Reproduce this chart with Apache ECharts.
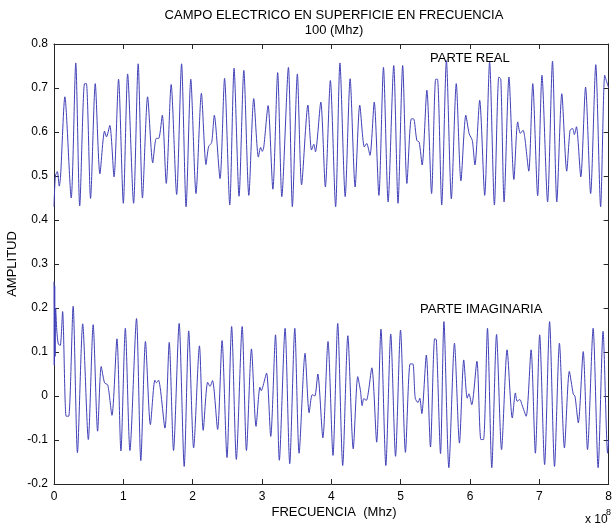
<!DOCTYPE html>
<html>
<head>
<meta charset="utf-8">
<script src="https://cdn.jsdelivr.net/npm/echarts@6/dist/echarts.min.js"></script>
<style>
  html, body { margin: 0; padding: 0; background: #fff; }
  #chart { width: 615px; height: 525px; }
</style>
</head>
<body>
<div id="chart"></div>
<script>
// Frequency samples (units of 1e8) and amplitude of the real part
const freqReal = [0, 0.02, 0.048, 0.076, 0.095, 0.157, 0.248, 0.314, 0.371, 0.44, 0.467, 0.527, 0.595, 0.662, 0.729, 0.757, 0.805, 0.866, 0.931, 1.0,
  1.062, 1.148, 1.214, 1.276, 1.35, 1.424, 1.471, 1.514, 1.562, 1.619, 1.69, 1.769, 1.84, 1.905, 1.973, 2.048, 2.126, 2.192, 2.23, 2.274,
  2.312, 2.395, 2.46, 2.535, 2.597, 2.669, 2.738, 2.81, 2.881, 2.948, 2.98, 3.005, 3.026, 3.088, 3.157, 3.226, 3.286, 3.381, 3.438, 3.51,
  3.571, 3.662, 3.714, 3.748, 3.771, 3.848, 3.914, 3.986, 4.062, 4.124, 4.2, 4.271, 4.343, 4.41, 4.476, 4.51, 4.557, 4.619, 4.686, 4.752,
  4.819, 4.9, 4.962, 5.029, 5.09, 5.153, 5.186, 5.233, 5.267, 5.31, 5.378, 5.446, 5.505, 5.531, 5.592, 5.66, 5.731, 5.802, 5.869, 5.94,
  5.988, 6.033, 6.071, 6.14, 6.212, 6.283, 6.352, 6.416, 6.445, 6.492, 6.562, 6.633, 6.688, 6.725, 6.765, 6.79, 6.848, 6.905, 6.976, 7.038,
  7.119, 7.19, 7.252, 7.324, 7.395, 7.443, 7.48, 7.505, 7.535, 7.598, 7.667, 7.74, 7.814, 7.884, 7.943, 7.97, 8.0];
const ampReal = [0.43, 0.5, 0.51, 0.477, 0.5, 0.68, 0.45, 0.757, 0.432, 0.71, 0.71, 0.449, 0.71, 0.505, 0.602, 0.589, 0.615, 0.498, 0.72, 0.438,
  0.732, 0.438, 0.755, 0.45, 0.68, 0.53, 0.585, 0.586, 0.638, 0.483, 0.708, 0.458, 0.755, 0.43, 0.72, 0.46, 0.688, 0.526, 0.567, 0.576,
  0.638, 0.494, 0.722, 0.434, 0.745, 0.454, 0.74, 0.456, 0.676, 0.543, 0.565, 0.556, 0.566, 0.66, 0.47, 0.735, 0.453, 0.747, 0.43, 0.732,
  0.48, 0.661, 0.559, 0.572, 0.555, 0.668, 0.475, 0.717, 0.43, 0.757, 0.453, 0.721, 0.475, 0.661, 0.566, 0.574, 0.547, 0.668, 0.456, 0.747,
  0.441, 0.751, 0.438, 0.751, 0.483, 0.63, 0.63, 0.581, 0.577, 0.525, 0.695, 0.46, 0.72, 0.72, 0.434, 0.762, 0.448, 0.71, 0.489, 0.638,
  0.596, 0.581, 0.525, 0.672, 0.456, 0.759, 0.434, 0.725, 0.72, 0.441, 0.725, 0.492, 0.623, 0.597, 0.604, 0.588, 0.511, 0.71, 0.455, 0.729,
  0.441, 0.761, 0.441, 0.687, 0.511, 0.604, 0.608, 0.594, 0.612, 0.498, 0.702, 0.46, 0.753, 0.43, 0.729, 0.715, 0.70];

// Frequency samples (units of 1e8) and amplitude of the imaginary part
const freqImag = [0, 0.004, 0.01, 0.016, 0.024, 0.04, 0.062, 0.09, 0.124, 0.175, 0.212, 0.276, 0.338, 0.414, 0.495, 0.565, 0.629, 0.681, 0.729, 0.776,
  0.836, 0.908, 0.965, 1.029, 1.095, 1.19, 1.252, 1.319, 1.39, 1.455, 1.478, 1.507, 1.6, 1.662, 1.724, 1.805, 1.878, 1.943, 2.014, 2.098,
  2.152, 2.216, 2.25, 2.286, 2.36, 2.424, 2.495, 2.562, 2.63, 2.714, 2.776, 2.848, 2.914, 2.97, 2.99, 3.01, 3.066, 3.126, 3.195, 3.25,
  3.333, 3.4, 3.473, 3.535, 3.621, 3.68, 3.724, 3.762, 3.805, 3.878, 3.952, 4.024, 4.092, 4.164, 4.238, 4.316, 4.381, 4.42, 4.445, 4.468,
  4.505, 4.584, 4.654, 4.716, 4.786, 4.857, 4.926, 4.998, 5.069, 5.136, 5.176, 5.21, 5.25, 5.276, 5.305, 5.37, 5.43, 5.49, 5.515, 5.575,
  5.624, 5.695, 5.776, 5.848, 5.91, 5.96, 5.985, 6.025, 6.1, 6.157, 6.195, 6.252, 6.314, 6.383, 6.455, 6.535, 6.61, 6.655, 6.68, 6.72,
  6.75, 6.81, 6.881, 6.943, 7.005, 7.076, 7.148, 7.219, 7.29, 7.362, 7.433, 7.49, 7.514, 7.562, 7.633, 7.695, 7.776, 7.848, 7.919, 7.985,
  8.0];
const ampImag = [0.26, 0.07, 0.25, 0.09, 0.2, 0.15, 0.118, 0.115, 0.192, -0.046, -0.046, 0.204, -0.129, 0.164, -0.099, 0.162, -0.08, 0.067, 0.03, 0.025,
  -0.044, 0.13, -0.125, 0.154, -0.124, 0.176, -0.147, 0.124, -0.065, 0.036, 0.03, 0.036, -0.073, 0.122, -0.124, 0.165, -0.16, 0.148, -0.118, 0.114,
  -0.078, 0.031, 0.022, 0.035, -0.076, 0.126, -0.14, 0.158, -0.144, 0.158, -0.124, 0.107, -0.069, 0.02, 0.012, 0.02, 0.052, -0.092, 0.139, -0.146,
  0.154, -0.154, 0.154, -0.13, 0.097, -0.038, 0.003, 0, 0.05, -0.095, 0.124, -0.135, 0.165, -0.158, 0.137, -0.12, 0.044, 0.012, -0.022, -0.006,
  -0.01, 0.064, -0.105, 0.152, -0.158, 0.141, -0.137, 0.15, -0.128, 0.073, 0.073, -0.005, -0.015, -0.005, -0.04, 0.093, -0.116, 0.13, 0.128, -0.131,
  0.169, -0.163, 0.12, -0.107, 0.082, -0.005, 0.005, -0.02, 0.079, -0.099, -0.099, 0.154, -0.163, 0.14, -0.122, 0.105, -0.05, 0.007, -0.012, -0.008,
  -0.02, -0.046, 0.105, -0.13, 0.139, -0.156, 0.169, -0.16, 0.12, -0.118, 0.056, 0.004, 0, -0.061, 0.101, -0.122, 0.154, -0.163, 0.147, -0.13,
  -0.10];

const xTicks = [0, 1, 2, 3, 4, 5, 6, 7, 8];
const yTicks = [-0.2, -0.1, 0, 0.1, 0.2, 0.3, 0.4, 0.5, 0.6, 0.7, 0.8];

const FONT = '"Liberation Sans", Arial, sans-serif';
const AXIS_COLOR = '#262626';
const LINE_COLOR = '#4040b8';

const toPairs = (xs, ys) => xs.map((x, i) => [x, ys[i]]);

const chart = echarts.init(document.getElementById('chart'), null, { renderer: 'canvas' });

const GRID = { left: 54, right: 1, top: 44, bottom: 41 };
const plotCenterX = GRID.left + (615 - GRID.left - GRID.right) / 2;
const plotCenterY = GRID.top + (525 - GRID.top - GRID.bottom) / 2;

const xBase = {
  type: 'value', min: xTicks[0], max: xTicks[xTicks.length - 1], interval: 1,
  splitLine: { show: false },
  axisLine: { show: true, onZero: false, lineStyle: { color: AXIS_COLOR, width: 1 } },
  axisTick: { show: true, inside: true, length: 5, lineStyle: { color: AXIS_COLOR } }
};
const yBase = {
  type: 'value', min: yTicks[0], max: yTicks[yTicks.length - 1], interval: 0.1,
  splitLine: { show: false },
  axisLine: { show: true, onZero: false, lineStyle: { color: AXIS_COLOR, width: 1 } },
  axisTick: { show: true, inside: true, length: 5, lineStyle: { color: AXIS_COLOR } }
};

chart.setOption({
  animation: false,
  backgroundColor: '#ffffff',
  grid: GRID,
  xAxis: [
    Object.assign({}, xBase, {
      position: 'bottom',
      axisLabel: { show: true, margin: 7, color: '#000', fontSize: 12, fontFamily: FONT }
    }),
    Object.assign({}, xBase, { position: 'top', axisLabel: { show: false } })
  ],
  yAxis: [
    Object.assign({}, yBase, {
      position: 'left',
      axisLabel: {
        show: true, margin: 6, color: '#000', fontSize: 12, fontFamily: FONT,
        formatter: v => {
          const r = Math.round(v * 10) / 10;
          return r === 0 ? '0' : r.toFixed(1);
        }
      }
    }),
    Object.assign({}, yBase, { position: 'right', axisLabel: { show: false } })
  ],
  series: [
    {
      name: 'PARTE REAL', type: 'line', xAxisIndex: 0, yAxisIndex: 0,
      data: toPairs(freqReal, ampReal), showSymbol: false, smooth: 0.25,
      lineStyle: { color: LINE_COLOR, width: 1 }
    },
    {
      name: 'PARTE IMAGINARIA', type: 'line', xAxisIndex: 0, yAxisIndex: 0,
      data: toPairs(freqImag, ampImag), showSymbol: false, smooth: 0.25,
      lineStyle: { color: LINE_COLOR, width: 1 }
    }
  ],
  graphic: [
    { type: 'text', x: plotCenterX, y: 15, style: { text: 'CAMPO ELECTRICO EN SUPERFICIE EN FRECUENCIA', font: '13px ' + FONT, fill: '#000', textAlign: 'center', textVerticalAlign: 'middle' } },
    { type: 'text', x: plotCenterX, y: 30, style: { text: '100 (Mhz)', font: '13px ' + FONT, fill: '#000', textAlign: 'center', textVerticalAlign: 'middle' } },
    { type: 'text', x: plotCenterX, y: 512, style: { text: 'FRECUENCIA  (Mhz)', font: '13px ' + FONT, fill: '#000', textAlign: 'center', textVerticalAlign: 'middle' } },
    { type: 'text', x: 12, y: plotCenterY, rotation: Math.PI / 2, style: { text: 'AMPLITUD', font: '13px ' + FONT, fill: '#000', textAlign: 'center', textVerticalAlign: 'middle' } },
    { type: 'text', x: 430, y: 58, style: { text: 'PARTE REAL', font: '13px ' + FONT, fill: '#000', textAlign: 'left', textVerticalAlign: 'middle' } },
    { type: 'text', x: 420, y: 309, style: { text: 'PARTE IMAGINARIA', font: '13px ' + FONT, fill: '#000', textAlign: 'left', textVerticalAlign: 'middle' } },
    { type: 'text', x: 585, y: 520, style: { text: 'x 10', font: '12px ' + FONT, fill: '#000', textAlign: 'left', textVerticalAlign: 'middle' } },
    { type: 'text', x: 606, y: 513, style: { text: '8', font: '9px ' + FONT, fill: '#000', textAlign: 'left', textVerticalAlign: 'middle' } }
  ]
});
</script>
</body>
</html>
